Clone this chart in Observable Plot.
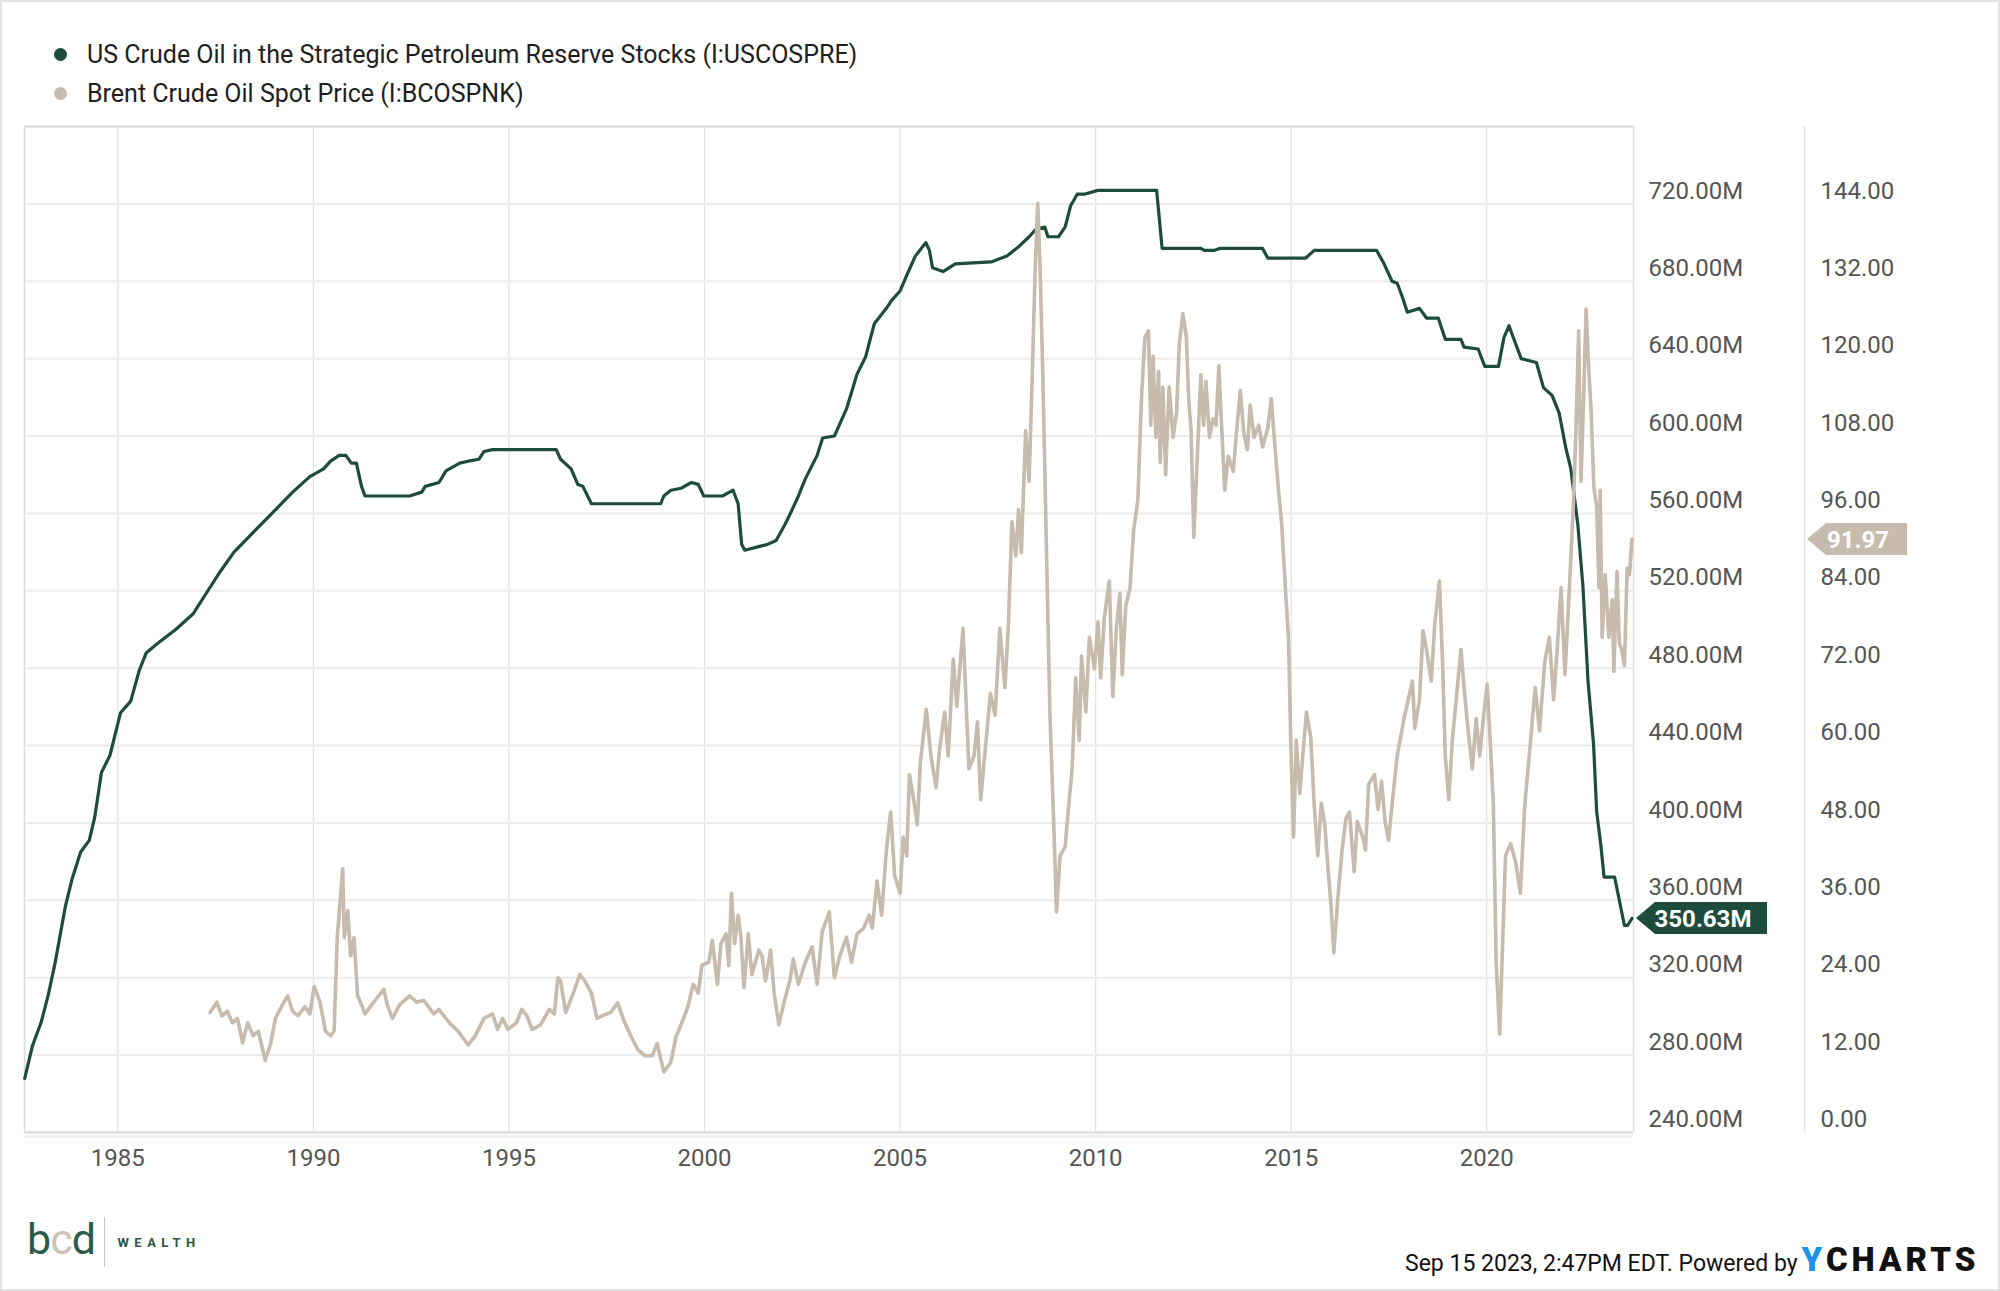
<!DOCTYPE html>
<html><head><meta charset="utf-8">
<script src="https://cdn.jsdelivr.net/npm/d3@7"></script>
<script src="https://cdn.jsdelivr.net/npm/@observablehq/plot@0.6"></script>
<style>
html,body{margin:0;padding:0;background:#fff;}
#wrap{position:relative;width:2000px;height:1291px;overflow:hidden;font-family:Roboto,"Noto Sans",sans-serif;background:#fff;}
#border{position:absolute;left:0;top:0;width:2000px;height:1291px;box-sizing:border-box;border:2px solid #e2e2e2;pointer-events:none;z-index:5;}
#legend{position:absolute;left:0;top:0;width:2000px;height:110px;}
.lg{position:absolute;left:52px;height:30px;display:flex;align-items:center;font-size:25px;color:#1e1e1e;white-space:nowrap;}
.lg .dot{width:13px;height:13px;border-radius:50%;margin-right:20px;margin-left:2px;}
#chart{position:absolute;left:0;top:110px;width:2000px;height:1060px;}
#stamp{position:absolute;left:1405px;top:1240px;font-size:23px;color:#111;white-space:nowrap;display:flex;align-items:baseline;}
#stamp .yc{font-weight:900;font-size:33px;letter-spacing:4px;margin-left:4px;color:#111;}
#stamp .yc b{color:#1a93ea;font-weight:900;}
#logo{position:absolute;left:27px;top:1215px;height:54px;display:flex;align-items:center;}
#logo .bcd{font-size:43px;font-weight:400;letter-spacing:-1px;line-height:1;margin-top:-6px;}
#logo .sep{width:1.5px;height:50px;background:#cfc6b9;margin:0 12px 0 9px;}
#logo .w{font-size:13px;font-weight:700;letter-spacing:5.5px;color:#2a5547;}
</style></head><body>
<div id="wrap">
  <div id="legend"></div>
  <div id="chart"></div>
  <div id="logo"><span class="bcd"><span style="color:#2a5a4a">b</span><span style="color:#cdc3b5">c</span><span style="color:#2a5a4a">d</span></span><span class="sep"></span><span class="w">WEALTH</span></div>
  <div id="stamp"><span>Sep 15 2023, 2:47PM EDT. Powered by</span><span class="yc"><b>Y</b>CHARTS</span></div>
  <div id="border"></div>
</div>
<script>
const seriesNames = ["US Crude Oil in the Strategic Petroleum Reserve Stocks (I:USCOSPRE)", "Brent Crude Oil Spot Price (I:BCOSPNK)"];
const GREEN = "#1d4b3c", BEIGE = "#c6bbac";

// US SPR stocks, millions of barrels (decimal year, value)
const sprYears = [1982.62,1982.82,1983.04,1983.22,1983.39,1983.66,1983.83,1984.05,1984.27,1984.41,1984.58,1984.80,1985.07,1985.33,1985.55,1985.73,1986.03,1986.48,1986.92,1987.27,1987.62,1987.97,1988.50,1988.94,1989.47,1989.91,1990.26,1990.44,1990.66,1990.83,1990.97,1991.10,1991.23,1991.32,1992.46,1992.77,1992.86,1993.21,1993.39,1993.74,1993.96,1994.23,1994.36,1994.58,1996.21,1996.32,1996.59,1996.76,1996.89,1997.11,1998.88,1998.96,1999.14,1999.40,1999.67,1999.84,1999.98,2000.11,2000.46,2000.73,2000.86,2000.95,2001.03,2001.61,2001.83,2002.05,2002.22,2002.40,2002.58,2002.88,2003.02,2003.32,2003.63,2003.90,2004.12,2004.34,2004.65,2004.78,2005.00,2005.17,2005.39,2005.66,2005.75,2005.83,2006.10,2006.41,2007.33,2007.73,2008.04,2008.30,2008.48,2008.70,2008.78,2009.05,2009.22,2009.36,2009.53,2009.71,2010.06,2011.56,2011.70,2012.69,2012.78,2013.04,2013.17,2014.27,2014.40,2015.37,2015.59,2017.18,2017.35,2017.58,2017.71,2017.84,2017.97,2018.28,2018.46,2018.76,2018.94,2019.34,2019.42,2019.78,2019.95,2020.30,2020.44,2020.57,2020.66,2020.88,2021.27,2021.45,2021.67,2021.85,2022.02,2022.15,2022.33,2022.46,2022.59,2022.73,2022.81,2022.92,2023.00,2023.27,2023.52,2023.60,2023.71];
const sprValues = [268,285,297,311,327,357,371,385,391,403,426,435,457,463,479,488,493,500,508,519,530,540,551,560,571,579,583,587,590,590,586,586,574,569,569,571,574,576,582,586,587,588,592,593,593,588,583,575,574,565,565,569,572,573,576,575,569,569,569,572,565,544,541,544,546,554,561,569,578,590,599,600,614,632,641,658,666,670,675,683,693,700,696,687,685,689,690,693,698,703,707,708,703,703,708,719,725,725,727,727,697,697,696,696,697,697,692,692,696,696,690,680,679,672,664,666,661,661,650,650,646,645,636,636,651,657,652,640,638,625,621,612,594,583,554,522,473,441,406,388,372,372,347,347,350.63];

// Brent crude spot price, USD per barrel (decimal year, value)
const brentYears = [1987.36,1987.53,1987.66,1987.80,1987.93,1988.06,1988.19,1988.32,1988.46,1988.59,1988.77,1988.90,1989.03,1989.21,1989.34,1989.47,1989.60,1989.78,1989.91,1990.02,1990.17,1990.31,1990.44,1990.53,1990.61,1990.75,1990.79,1990.88,1990.95,1991.04,1991.13,1991.23,1991.32,1991.49,1991.67,1991.80,1991.89,1992.02,1992.20,1992.46,1992.64,1992.82,1993.08,1993.21,1993.48,1993.70,1993.96,1994.14,1994.36,1994.58,1994.71,1994.84,1994.97,1995.19,1995.33,1995.46,1995.59,1995.81,1996.03,1996.16,1996.25,1996.32,1996.45,1996.67,1996.81,1996.94,1997.11,1997.25,1997.42,1997.60,1997.78,1997.95,1998.13,1998.30,1998.48,1998.66,1998.79,1998.96,1999.14,1999.27,1999.40,1999.58,1999.71,1999.84,1999.93,2000.11,2000.20,2000.33,2000.42,2000.55,2000.62,2000.69,2000.77,2000.86,2000.93,2001.01,2001.12,2001.21,2001.39,2001.47,2001.56,2001.69,2001.78,2001.90,2002.05,2002.18,2002.27,2002.40,2002.58,2002.75,2002.88,2003.01,2003.19,2003.32,2003.46,2003.63,2003.76,2003.90,2004.07,2004.21,2004.29,2004.41,2004.53,2004.65,2004.76,2004.86,2005.00,2005.08,2005.17,2005.24,2005.35,2005.44,2005.52,2005.67,2005.79,2005.92,2006.01,2006.14,2006.23,2006.36,2006.45,2006.61,2006.76,2006.89,2006.98,2007.06,2007.20,2007.31,2007.43,2007.55,2007.68,2007.77,2007.86,2007.96,2008.03,2008.10,2008.21,2008.30,2008.37,2008.46,2008.52,2008.58,2008.65,2008.74,2008.83,2008.93,2009.00,2009.09,2009.22,2009.31,2009.40,2009.49,2009.58,2009.64,2009.75,2009.84,2009.97,2010.06,2010.13,2010.22,2010.35,2010.44,2010.53,2010.62,2010.68,2010.77,2010.88,2010.97,2011.08,2011.17,2011.26,2011.35,2011.41,2011.47,2011.54,2011.61,2011.65,2011.72,2011.79,2011.88,2011.98,2012.07,2012.14,2012.23,2012.32,2012.38,2012.44,2012.51,2012.60,2012.69,2012.76,2012.82,2012.91,2013.00,2013.08,2013.15,2013.22,2013.30,2013.39,2013.52,2013.61,2013.70,2013.79,2013.88,2013.95,2014.05,2014.17,2014.27,2014.40,2014.49,2014.58,2014.67,2014.76,2014.84,2014.93,2014.99,2015.06,2015.13,2015.22,2015.31,2015.39,2015.50,2015.59,2015.68,2015.77,2015.86,2015.94,2016.02,2016.09,2016.19,2016.30,2016.40,2016.49,2016.61,2016.69,2016.83,2016.90,2016.98,2017.13,2017.22,2017.31,2017.40,2017.49,2017.60,2017.71,2017.87,2017.99,2018.10,2018.16,2018.28,2018.37,2018.46,2018.58,2018.67,2018.79,2018.87,2018.94,2019.03,2019.12,2019.21,2019.34,2019.42,2019.51,2019.63,2019.73,2019.82,2019.93,2020.01,2020.10,2020.17,2020.24,2020.33,2020.39,2020.48,2020.61,2020.74,2020.86,2020.97,2021.10,2021.24,2021.35,2021.48,2021.60,2021.71,2021.81,2021.90,2022.00,2022.13,2022.22,2022.28,2022.35,2022.41,2022.48,2022.54,2022.60,2022.67,2022.74,2022.81,2022.87,2022.90,2022.95,2023.03,2023.12,2023.21,2023.25,2023.33,2023.39,2023.45,2023.52,2023.59,2023.65,2023.71];
const brentValues = [18.6,20.2,18.1,18.8,17.0,17.7,13.9,17.0,15.0,15.7,11.2,13.6,17.7,19.8,21.2,18.8,18.1,19.5,18.4,22.6,20.2,15.7,15.0,15.7,30.2,40.9,30.2,34.4,27.4,30.2,21.2,19.8,18.4,19.8,21.2,22.2,19.8,17.7,19.8,21.2,20.2,20.5,18.4,19.1,17.0,15.7,13.6,15.0,17.7,18.4,16.0,17.7,16.0,17.0,19.1,18.1,16.0,16.7,19.1,18.4,24.0,23.5,18.6,22.0,24.5,23.5,21.6,17.7,18.2,18.6,20.1,17.2,14.8,12.8,11.9,11.9,13.8,9.4,10.9,14.8,16.7,19.6,23.0,21.6,25.9,26.4,29.8,23.0,29.3,30.8,25.9,37.1,29.3,33.7,30.3,22.5,30.8,24.5,28.3,27.4,23.5,28.3,21.6,16.7,20.6,23.5,26.9,23.0,26.4,28.8,23.0,31.2,34.2,24.0,27.4,30.3,26.4,30.8,31.7,33.7,31.7,39.0,33.7,43.8,49.7,39.9,37.1,45.8,42.9,55.5,51.6,47.7,57.4,65.6,58.4,53.5,59.4,65.2,58.4,73.4,66.1,78.2,56.4,58.4,63.7,51.6,60.8,68.1,64.7,78.2,69.0,78.7,94.7,89.4,96.6,89.9,108.8,101.0,115.6,134.9,144.1,134.0,117.5,91.3,65.2,47.7,34.2,42.9,44.3,50.6,56.4,70.5,60.8,73.9,65.2,76.8,71.9,79.2,70.5,79.7,85.5,67.6,78.2,83.6,71.0,81.6,84.5,93.3,98.1,113.6,123.3,124.3,109.7,120.4,107.8,118.0,103.9,115.6,102.0,115.6,107.8,111.7,122.3,127.0,123.3,113.6,108.8,92.3,104.9,117.5,109.7,116.5,107.8,110.7,109.7,118.9,109.7,99.6,104.9,102.5,109.2,115.1,108.3,105.9,112.8,107.8,109.7,106.3,109.2,113.8,106.8,100.0,94.2,85.5,76.8,60.3,45.8,60.8,52.6,59.4,65.2,61.3,50.6,42.9,51.1,47.7,41.0,35.1,27.9,36.1,43.8,48.7,49.7,40.4,48.2,45.8,43.8,54.0,55.5,50.1,54.5,48.2,45.3,52.1,58.4,63.7,67.1,70.0,62.7,67.1,77.8,74.9,70.0,78.7,85.5,72.9,58.4,51.6,60.8,66.6,74.9,69.0,63.2,56.4,64.2,58.4,65.2,69.5,59.4,50.6,26.4,15.3,26.4,42.9,44.8,41.9,37.1,50.6,59.4,69.0,62.3,72.9,76.8,67.1,75.8,84.5,71.0,86.5,98.1,108.8,124.3,101.0,114.6,127.7,119.4,111.7,100.0,97.1,84.5,99.6,76.8,86.5,76.8,82.6,71.5,87.0,75.8,74.9,72.4,87.5,86.5,91.97];

const yearTicks = [1985,1990,1995,2000,2005,2010,2015,2020];
const sprTicks = [240,280,320,360,400,440,480,520,560,600,640,680,720];
const brentTicks = [0,12,24,36,48,60,72,84,96,108,120,132,144];
const lastSprLabel = "350.63M", lastBrentLabel = "91.97";

// Brent axis 0..156 shares the frame with SPR axis 240..760
const toSpr = b => 240 + b / 0.3;
const spr = sprYears.map((t, i) => ({t, v: sprValues[i]}));
const brent = brentYears.map((t, i) => ({t, v: brentValues[i]}));

// legend
const lg = document.getElementById("legend");
[[seriesNames[0], GREEN, 39], [seriesNames[1], BEIGE, 78]].forEach(([name, c, top]) => {
  const d = document.createElement("div");
  d.className = "lg"; d.style.top = top + "px";
  d.innerHTML = `<span class="dot" style="background:${c}"></span><span>${name}</span>`;
  lg.appendChild(d);
});

const X0 = 1982.614, X1 = 2023.752;
const axisStyle = {fontSize: 24, fill: "#555"};
const chart = Plot.plot({
  width: 2000, height: 1060,
  marginLeft: 24, marginRight: 367, marginTop: 16, marginBottom: 38,
  x: {domain: [X0, X1]},
  y: {domain: [240, 760]},
  style: {fontFamily: "Roboto, 'Noto Sans', sans-serif", fontSize: "24px", color: "#555", background: "transparent", overflow: "visible"},
  marks: [
    Plot.gridX(yearTicks, {stroke: "#e3e3e3", strokeOpacity: 1, strokeWidth: 1.3}),
    Plot.gridY(sprTicks.filter(d => d > 240), {stroke: "#ececec", strokeOpacity: 1, strokeWidth: 2}),
    Plot.ruleX([X0, X1], {stroke: "#dcdcdc", strokeWidth: 1.5}),
    Plot.ruleX([X1], {dx: 171, stroke: "#e3e3e3", strokeWidth: 1.5}),
    Plot.ruleY([760], {stroke: "#e0e0e0", strokeWidth: 2.5}),
    Plot.ruleY([240], {stroke: "#e2e2e2", strokeWidth: 3}),
    Plot.ruleY([240], {dy: 4, stroke: "#f0f0f0", strokeWidth: 3}),
    Plot.line(spr, {x: "t", y: "v", stroke: GREEN, strokeWidth: 3.2, strokeLinejoin: "round"}),
    Plot.line(brent, {x: "t", y: d => toSpr(d.v), stroke: BEIGE, strokeWidth: 3.6, strokeLinejoin: "round"}),
    Plot.axisX(yearTicks, {tickSize: 0, tickPadding: 16, tickFormat: d => String(d), label: null, ...axisStyle}),
    Plot.axisY(sprTicks, {anchor: "right", tickSize: 0, tickPadding: 15, textAnchor: "start", dy: -13, tickFormat: d => d.toFixed(2) + "M", label: null, ...axisStyle}),
    Plot.axisY(brentTicks.map(toSpr), {anchor: "right", tickSize: 0, tickPadding: 187, textAnchor: "start", dy: -13, tickFormat: d => ((d - 240) * 0.3).toFixed(2), label: null, ...axisStyle})
  ]
});
document.getElementById("chart").appendChild(chart);

// end-value tags, positioned with the plot's own scales
const xs = chart.scale("x"), ys = chart.scale("y");
const svg = d3.select(chart);
const rightX = xs.apply(X1);
function tag(yv, tipX, x1, fill, text, textX) {
  const y = ys.apply(yv), h = 16;
  svg.append("path")
    .attr("d", `M${tipX},${y}L${tipX + 19},${y - h}L${x1},${y - h}L${x1},${y + h}L${tipX + 19},${y + h}Z`)
    .attr("fill", fill);
  svg.append("text").attr("x", textX).attr("y", y).attr("dy", "0.36em")
    .attr("text-anchor", "middle").attr("fill", "#fff")
    .attr("font-weight", 700).attr("font-size", 24).attr("font-family", "Roboto, sans-serif")
    .text(text);
}
tag(sprValues[sprValues.length - 1], rightX + 3, 1767, GREEN, lastSprLabel, 1703);
tag(toSpr(brentValues[brentValues.length - 1]), rightX + 174, 1907, BEIGE, lastBrentLabel, 1858);
</script>
</body></html>
